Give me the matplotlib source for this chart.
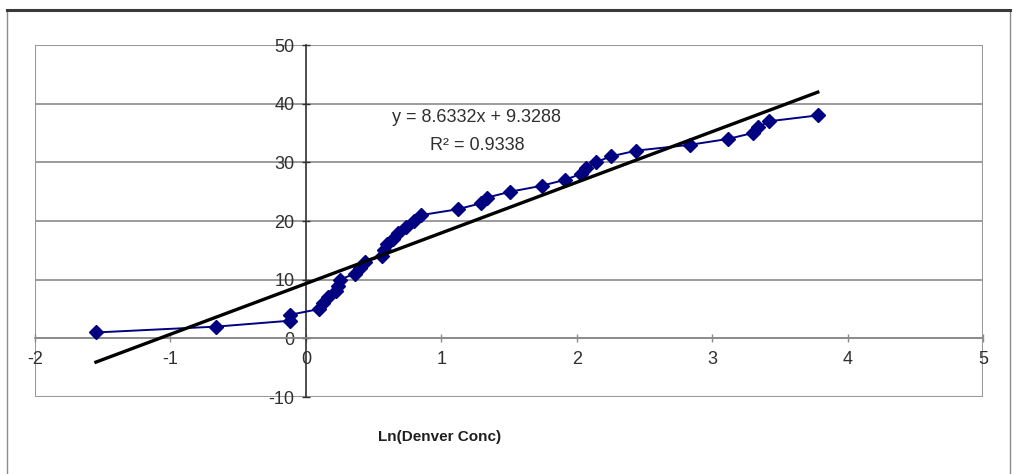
import matplotlib.pyplot as plt
from matplotlib.patches import Rectangle
import numpy as np

# Ln of Denver concentrations against their rank
ln_conc = [-1.55, -0.66, -0.12, -0.12, 0.10, 0.13, 0.16, 0.22, 0.24, 0.25,
           0.36, 0.40, 0.44, 0.56, 0.58, 0.60, 0.64, 0.68, 0.74, 0.80,
           0.85, 1.12, 1.29, 1.34, 1.51, 1.74, 1.91, 2.03, 2.07, 2.14,
           2.25, 2.44, 2.84, 3.12, 3.30, 3.34, 3.42, 3.78]
rank = list(range(1, 39))

# linear trendline
slope = 8.6332
intercept = 9.3288
r_squared = 0.9338

x_ticks = [-2, -1, 0, 1, 2, 3, 4, 5]
y_ticks = [-10, 0, 10, 20, 30, 40, 50]

plt.rcParams['font.family'] = ['Liberation Sans', 'DejaVu Sans']
plt.rcParams['axes.unicode_minus'] = False

W, H = 1013, 474
fig = plt.figure(figsize=(W / 100, H / 100), dpi=100)

# outer chart frame
fig.patches.append(Rectangle((7 / W, -0.05), (1010 - 7) / W, 1.05 - 10 / H,
                             transform=fig.transFigure, fill=False,
                             ec='#8c8c8c', lw=1.0))
fig.lines.append(plt.Line2D([7 / W, 1010 / W], [1 - 10 / H, 1 - 10 / H],
                            transform=fig.transFigure, color='#3a3a3a', lw=2.2))

ax = fig.add_axes([35 / W, 1 - 397 / H, (983 - 35) / W, (397 - 45) / H])
ax.set_xlim(-2, 5)
ax.set_ylim(-10, 50)
ax.set_xticks(x_ticks)
ax.set_yticks(y_ticks)

# gridlines
for yv in y_ticks:
    ax.axhline(yv, color='#8a8a8a', lw=1.2, zorder=0)

# axes cross at zero
ax.spines['left'].set_position(('data', 0))
ax.spines['bottom'].set_position(('data', 0))
ax.spines['left'].set_color('#303030')
ax.spines['left'].set_linewidth(1.2)
ax.spines['bottom'].set_color('#8a8a8a')
ax.spines['bottom'].set_linewidth(1.2)
ax.spines['top'].set_visible(False)
ax.spines['right'].set_visible(False)
ax.add_patch(Rectangle((0, 0), 1, 1, transform=ax.transAxes, fill=False,
                       ec='#9a9a9a', lw=1.5, zorder=0.5))

ax.tick_params(axis='both', direction='inout', length=6, width=1,
               labelsize=13, colors='#303030')
ax.tick_params(axis='x', color='#8a8a8a', pad=6)
ax.tick_params(axis='y', pad=5)

# data series
ax.plot(ln_conc, rank, color='#000080', lw=1.4, marker='D', ms=7,
        mfc='#000080', mec='#000080', zorder=3)

# trendline over the data range
x_fit = np.array([min(ln_conc), max(ln_conc)])
ax.plot(x_fit, slope * x_fit + intercept, color='black', lw=2.4, zorder=4)

fig.text(476 / W, 1 - 117 / H, f'y = {slope}x + {intercept}',
         ha='center', va='center', fontsize=13, color='#303030')
fig.text(477 / W, 1 - 146 / H, f'R² = {r_squared}',
         ha='center', va='center', fontsize=13, color='#303030')

fig.text(440 / W, 1 - 437 / H, 'Ln(Denver Conc)', ha='center', va='center',
         fontsize=11, fontweight='bold', color='#202020')

fig.savefig('out.png', dpi=100)
